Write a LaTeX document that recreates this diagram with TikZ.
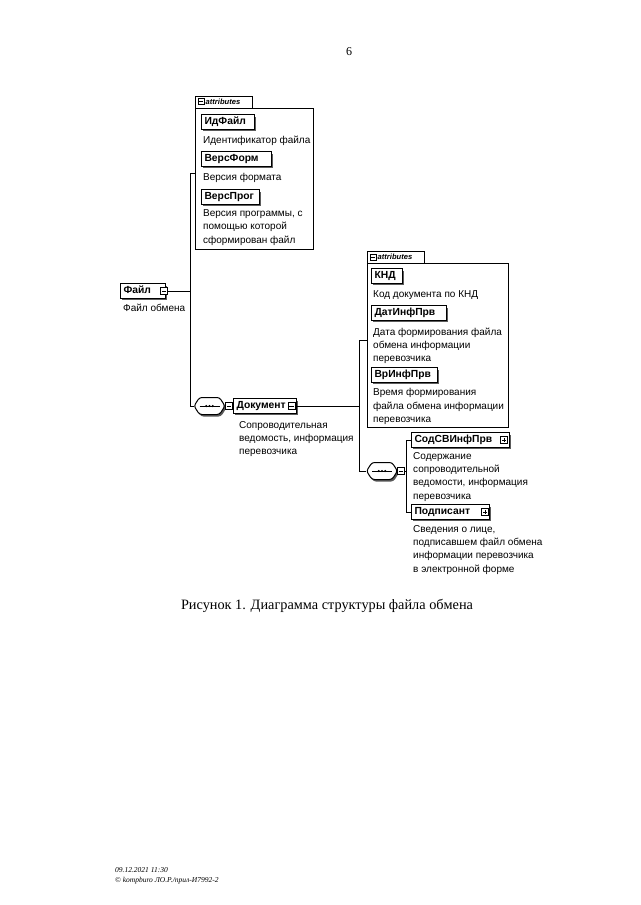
\documentclass[tikz,border=0pt]{standalone}
\usepackage{fontspec}
\setmainfont{Liberation Sans}
\newfontfamily\serifface{Liberation Serif}
\usetikzlibrary{shadows}
\begin{document}
\begin{tikzpicture}[x=1pt,y=-1pt,
  lw/.style={line width=0.9pt},
  elem/.style={draw, line width=1.1pt, fill=white, anchor=west, inner xsep=3pt, inner ysep=2.4pt,
    text height=7.6pt, text depth=2pt, align=left, font=\bfseries\fontsize{10.3}{11}\selectfont,
    drop shadow={shadow xshift=1.8pt, shadow yshift=-1.8pt, fill=black!75, opacity=0.85}},
  desc/.style={anchor=north west, inner sep=0pt, align=left, font=\fontsize{10}{13.4}\selectfont},
  cont/.style={draw, line width=0.9pt, anchor=north west, inner sep=0pt},
  sqbase/.style={draw, fill=white, line width=0.6pt, minimum size=7pt, inner sep=0pt},
  sqminus/.style={sqbase, path picture={\draw[line width=0.7pt] ([xshift=1.4pt]path picture bounding box.west) -- ([xshift=-1.4pt]path picture bounding box.east);}},
  sqplus/.style={sqbase, path picture={\draw[line width=0.7pt] ([xshift=1.4pt]path picture bounding box.west) -- ([xshift=-1.4pt]path picture bounding box.east) ([yshift=-1.4pt]path picture bounding box.north) -- ([yshift=1.4pt]path picture bounding box.south);}},
  tabtext/.style={anchor=west, inner sep=0pt, font=\bfseries\itshape\fontsize{7.6}{8}\selectfont},
  seqpic/.pic={
    \begin{scope}[shift={(1.5,2)}]
      \fill[black!65, rounded corners=2.5pt] (-10,-8.5) -- (10,-8.5) -- (15.5,0) -- (10,8.5) -- (-10,8.5) -- (-15.5,0) -- cycle;
    \end{scope}
    \draw[fill=white, line width=1pt, rounded corners=2.5pt] (-10,-8.5) -- (10,-8.5) -- (15.5,0) -- (10,8.5) -- (-10,8.5) -- (-15.5,0) -- cycle;
    \draw[line width=0.7pt] (-10,0) -- (10,0);
    \fill (-3.2,0) circle (1.2pt) (0,0) circle (1.2pt) (3.2,0) circle (1.2pt);
    \node[inner sep=0pt, minimum width=31pt, minimum height=17pt] (-c) at (0,0) {};
  }
]
\fill[white] (0,0) rectangle (640,905);
\useasboundingbox (0,0) rectangle (640,905);

% page number
\node[font=\serifface\fontsize{12}{14}\selectfont] (pg) at (349,52) {6};

% ---- attributes of Файл
\node[cont, minimum width=57pt, minimum height=11.5pt] (tab1) at (195,96) {};
\node[sqminus, minimum size=6pt] (tab1sq) at (201,101.7) {};
\node[tabtext] (tab1t) at (205.5,101.7) {attributes};
\node[cont, minimum width=118pt, minimum height=141pt] (attr1) at (195,107.5) {};

\node[elem, text width=47pt] (idf) at (201,122) {ИдФайл};
\node[desc] (idfd) at (203,135.5) {Идентификатор файла};
\node[elem, text width=64pt] (vf) at (201,159) {ВерсФорм};
\node[desc] (vfd) at (203,173.5) {Версия формата};
\node[elem, text width=52pt] (vp) at (201,197) {ВерсПрог};
\node[desc] (vpd) at (203,209.5) {Версия программы, с\\помощью которой\\сформирован файл};

% ---- Файл
\node[elem, text width=39pt] (file) at (120,291) {Файл};
\node[sqminus] (filesq) at (164,291) {};
\node[desc] (filed) at (123,303.5) {Файл обмена};

\coordinate (j1) at (190,291);
\coordinate (b1t) at (190,173);
\coordinate (b1b) at (190,406);

% ---- sequence 1 and Документ
\pic (seq1) at (209.5,406) {seqpic};
\node[sqminus] (seq1sq) at (229,406) {};
\node[elem, text width=57pt] (doc) at (233,406) {Документ};
\node[sqminus] (docsq) at (291.5,406) {};
\node[desc] (docd) at (239,421) {Сопроводительная\\ведомость, информация\\перевозчика};

\draw[lw] (filesq.east) -- (j1);
\draw[lw] (b1t) -- (b1b);
\draw[lw] (b1t) -- (b1t -| attr1.west);
\draw[lw] (b1b) -- (seq1-c.west);

% ---- attributes of Документ
\node[cont, minimum width=57pt, minimum height=12pt] (tab2) at (367,251) {};
\node[sqminus, minimum size=6pt] (tab2sq) at (373,257) {};
\node[tabtext] (tab2t) at (377.5,257) {attributes};
\node[cont, minimum width=141pt, minimum height=164pt] (attr2) at (367,263) {};

\node[elem, text width=25pt] (knd) at (371,276) {КНД};
\node[desc] (kndd) at (373,290) {Код документа по КНД};
\node[elem, text width=69pt] (dat) at (371,313) {ДатИнфПрв};
\node[desc] (datd) at (373,327.5) {Дата формирования файла\\обмена информации\\перевозчика};
\node[elem, text width=60pt] (vr) at (371,375) {ВрИнфПрв};
\node[desc] (vrd) at (373,388.5) {Время формирования\\файла обмена информации\\перевозчика};

\coordinate (b2t) at (359,340);
\coordinate (b2b) at (359,471);

% ---- sequence 2
\pic (seq2) at (382,471) {seqpic};
\node[sqminus] (seq2sq) at (401,471) {};
\coordinate (b3t) at (406,440);
\coordinate (b3b) at (406,512);

\node[elem, text width=92pt] (sod) at (411,440) {СодСВИнфПрв};
\node[sqplus] (sodsq) at (504,440) {};
\node[desc] (sodd) at (413,452) {Содержание\\сопроводительной\\ведомости, информация\\перевозчика};
\node[elem, text width=72pt] (podp) at (411,512) {Подписант};
\node[sqplus] (podpsq) at (485,512) {};
\node[desc] (podpd) at (413,525) {Сведения о лице,\\подписавшем файл обмена\\информации перевозчика\\в электронной форме};

\draw[lw] (docsq.east) -- (docsq.east -| b2t);
\draw[lw] (b2t) -- (b2b);
\draw[lw] (b2t) -- (b2t -| attr2.west);
\draw[lw] (b2b) -- (seq2-c.west);
\draw[lw] (seq2sq.east) -- (seq2sq.east -| b3t);
\draw[lw] (b3t) -- (b3b);
\draw[lw] (b3t) -- (sod.west);
\draw[lw] (b3b) -- (podp.west);

% ---- caption and footer
\node[font=\serifface\fontsize{14.3}{16}\selectfont] (cap) at (327,606) {Рисунок 1. Диаграмма структуры файла обмена};
\node[anchor=north west, inner sep=0pt, align=left, font=\serifface\itshape\fontsize{7.5}{10}\selectfont] (foot) at (115,867) {09.12.2021 11:30\\© kompburo ЛО.Р./прил-И7992-2};
\end{tikzpicture}
\end{document}
